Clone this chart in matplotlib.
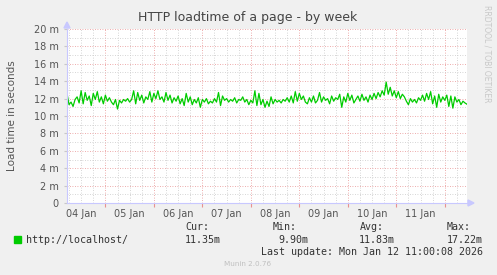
import matplotlib
matplotlib.use("Agg")
import matplotlib.pyplot as plt
import matplotlib.dates as mdates
from matplotlib.ticker import MultipleLocator
import numpy as np
from datetime import datetime, timedelta

title = "HTTP loadtime of a page - by week"
ylabel = "Load time in seconds"
series_name = "http://localhost/"
start_time = datetime(2026, 1, 4, 4, 0)
view_start = datetime(2026, 1, 4, 5, 0)
view_end = datetime(2026, 1, 12, 11, 0)

# hourly load time (ms)
load_ms = [
    11.8, 12.6, 11.3, 11.6, 11.1, 11.9, 12.2, 11.5, 12.9, 11.4, 12.7, 11.8, 12.3, 11.2, 12.6, 11.9, 12.8, 11.6, 12.2, 11.4, 12.4, 11.7, 12.1, 11.6,
    11.3, 11.9, 10.8, 11.8, 11.5, 11.9, 11.7, 12.0, 11.6, 11.9, 12.9, 11.4, 12.7, 11.8, 12.4, 11.5, 12.2, 11.9, 12.8, 11.6, 12.6, 12.0, 12.9, 11.9,
    12.2, 11.6, 12.7, 11.8, 12.4, 11.5, 12.1, 11.7, 12.3, 11.4, 12.0, 11.2, 12.6, 11.6, 12.2, 11.3, 11.9, 11.5, 12.1, 11.0, 11.9, 11.6, 12.0, 11.4,
    11.7, 11.5, 12.0, 11.6, 12.7, 11.2, 12.3, 11.8, 12.0, 11.6, 11.9, 11.7, 12.1, 11.5, 11.9, 11.8, 12.2, 11.6, 11.9, 11.3, 11.8, 11.5, 12.9, 11.2,
    12.6, 11.3, 11.9, 11.0, 11.7, 11.1, 12.2, 11.4, 11.9, 11.6, 11.8, 11.5, 11.9, 11.7, 12.1, 11.6, 12.3, 11.5, 12.8, 11.7, 12.6, 11.9, 12.3, 11.6,
    11.4, 12.1, 11.6, 12.3, 11.5, 11.8, 12.7, 11.6, 12.2, 11.8, 12.0, 11.4, 12.3, 11.7, 12.1, 11.9, 12.5, 11.0, 12.2, 11.6, 12.6, 11.8, 12.4, 11.5,
    11.9, 12.3, 11.7, 12.5, 11.8, 12.2, 11.6, 12.4, 11.9, 12.6, 12.0, 12.7, 12.2, 12.9, 12.4, 13.9, 12.5, 13.3, 12.3, 12.9, 12.1, 12.8, 12.0, 12.5,
    12.2, 11.7, 11.3, 12.0, 11.6, 11.9, 11.5, 12.1, 11.8, 12.4, 11.7, 12.6, 11.9, 12.8, 11.4, 12.3, 11.0, 12.5, 11.6, 12.2, 11.8, 12.4, 11.1, 12.3,
    10.9, 12.2, 11.6, 11.9, 11.3, 11.7, 11.5, 11.35,
]

yticks = [0, 2, 4, 6, 8, 10, 12, 14, 16, 18, 20]
yticklabels = ["0", "2 m", "4 m", "6 m", "8 m", "10 m", "12 m", "14 m", "16 m", "18 m", "20 m"]

legend_cols = ["Cur:", "Min:", "Avg:", "Max:"]
legend_vals = ["11.35m", "9.90m", "11.83m", "17.22m"]
last_update = "Last update: Mon Jan 12 11:00:08 2026"
footer = "Munin 2.0.76"
side_text = "RRDTOOL / TOBI OETIKER"

times = [start_time + timedelta(hours=i) for i in range(len(load_ms))]

W, H = 497, 275
fig = plt.figure(figsize=(W / 100, H / 100), dpi=100)
fig.patch.set_facecolor("#F0F0F0")

L, R, T, B = 67, 467, 29, 203
ax = fig.add_axes([L / W, 1 - B / H, (R - L) / W, (B - T) / H])
ax.set_facecolor("white")

ax.set_ylim(0, 20)
ax.set_xlim(view_start, view_end)

# grids
ax.yaxis.set_minor_locator(MultipleLocator(1))
ax.set_yticks(yticks)
ax.set_yticklabels(yticklabels)
ax.xaxis.set_major_locator(mdates.DayLocator())
ax.xaxis.set_minor_locator(mdates.HourLocator(byhour=[6, 12, 18]))
ax.grid(which="minor", color="#C8C8C8", linestyle=(0, (1, 2)), linewidth=0.6)
ax.grid(which="major", color="#E89090", linestyle=(0, (1, 2)), linewidth=0.6)
ax.set_axisbelow(True)

# day labels at noon
ax.set_xticklabels([])
day0 = datetime(2026, 1, 4, 12, 0)
for d in range(8):
    t = day0 + timedelta(days=d)
    ax.text(mdates.date2num(t), -0.035, t.strftime("%d Jan"), transform=ax.get_xaxis_transform(),
            ha="center", va="top", fontsize=7, color="#555555")

ax.tick_params(axis="x", which="major", length=3, color="#E89090", width=0.8)
ax.tick_params(axis="x", which="minor", length=0)
ax.tick_params(axis="y", which="major", length=2, color="#C8C8C8", labelsize=7, labelcolor="#555555", pad=4)
ax.tick_params(axis="y", which="minor", length=0)

for s in ["top", "right"]:
    ax.spines[s].set_visible(False)
ax.spines["left"].set_color("#C8C8FF")
ax.spines["bottom"].set_color("#C8C8FF")
ax.spines["left"].set_linewidth(0.8)
ax.spines["bottom"].set_linewidth(0.8)

ax.plot(times, load_ms, color="#00CC00", linewidth=0.9, clip_on=True)

# axis arrows
fig.patches.append(plt.Polygon([[ (L - 3) / W, 1 - (T - 1) / H], [(L + 3) / W, 1 - (T - 1) / H], [L / W, 1 - (T - 7) / H]],
                               closed=True, transform=fig.transFigure, color="#C8C8FF"))
fig.patches.append(plt.Polygon([[(R + 1) / W, 1 - (B - 3) / H], [(R + 1) / W, 1 - (B + 3) / H], [(R + 7) / W, 1 - B / H]],
                               closed=True, transform=fig.transFigure, color="#C8C8FF"))

fig.text(248 / W, 1 - 18 / H, title, ha="center", va="center", fontsize=9, color="#444444")
fig.text(12 / W, 1 - 116 / H, ylabel, ha="center", va="center", rotation=90, fontsize=7.5, color="#555555")
fig.text(487 / W, 1 - 5 / H, side_text, ha="center", va="top", rotation=270, fontsize=5.5, color="#C8C8C8")

mono = "DejaVu Sans Mono"
fig.patches.append(plt.Rectangle((14 / W, 1 - 243 / H), 7 / W, 7 / H, transform=fig.transFigure, color="#00CC00"))
fig.text(26 / W, 1 - 240 / H, series_name, ha="left", va="center", fontsize=7.2, family=mono, color="#333333")
col_left = [185, 273, 360, 447]
col_right = [221, 308, 395, 483]
for lab, val, xl, xr in zip(legend_cols, legend_vals, col_left, col_right):
    fig.text(xl / W, 1 - 227 / H, lab, ha="left", va="center", fontsize=7.2, family=mono, color="#333333")
    fig.text(xr / W, 1 - 240 / H, val, ha="right", va="center", fontsize=7.2, family=mono, color="#333333")
fig.text(483 / W, 1 - 252 / H, last_update, ha="right", va="center", fontsize=7.2, family=mono, color="#333333")
fig.text(248 / W, 1 - 264 / H, footer, ha="center", va="center", fontsize=5.2, color="#C0C0C0")

fig.savefig("out.png", dpi=100, facecolor=fig.get_facecolor())
